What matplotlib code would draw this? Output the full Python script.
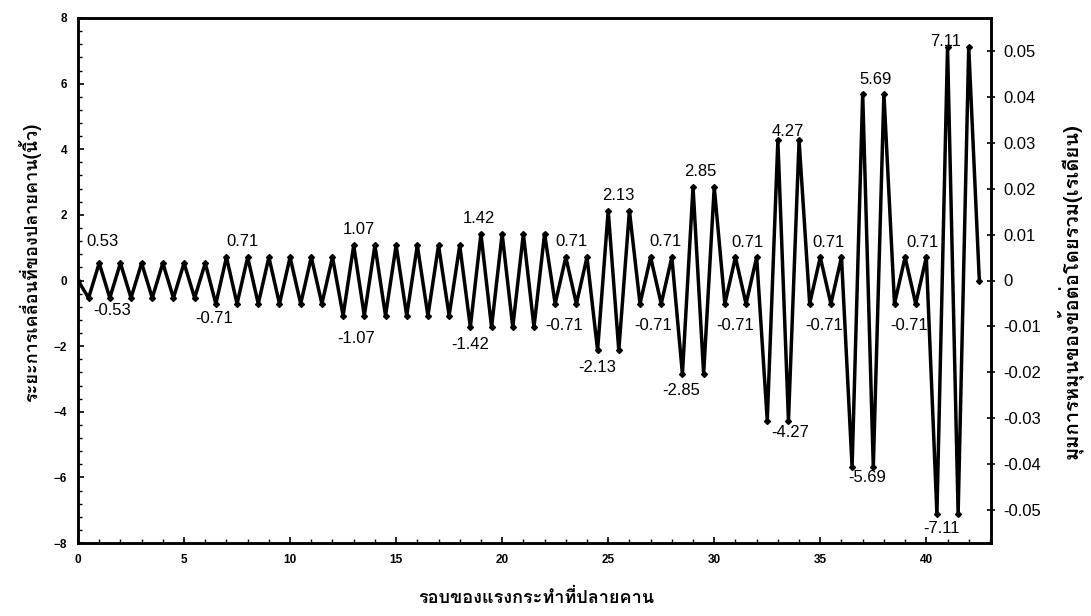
import matplotlib
matplotlib.use('Agg')
import matplotlib.pyplot as plt
from matplotlib.ticker import MultipleLocator, FixedLocator
import numpy as np

# peak displacement (in) of each load cycle
cycle_amp = ([0.53] * 6 + [0.71] * 6 + [1.07] * 6 + [1.42] * 4 +
             [0.71] * 2 + [2.13] * 2 + [0.71] * 2 + [2.85] * 2 +
             [0.71] * 2 + [4.27] * 2 + [0.71] * 2 + [5.69] * 2 +
             [0.71] * 2 + [7.11] * 2)

# each cycle: push to -amp at half cycle, then to +amp at full cycle
cycles = [0.0]
disp = [0.0]
for k, a in enumerate(cycle_amp):
    cycles += [k + 0.5, k + 1.0]
    disp += [-a, a]
cycles.append(len(cycle_amp) + 0.5)
disp.append(0.0)

# labels shown on the chart and where they sit (data coords)
label_text = ['0.53', '-0.53', '0.71', '-0.71', '1.07', '-1.07', '1.42', '-1.42',
              '0.71', '-0.71', '2.13', '-2.13', '0.71', '-0.71', '2.85', '-2.85',
              '0.71', '-0.71', '4.27', '-4.27', '0.71', '-0.71', '5.69', '-5.69',
              '0.71', '-0.71', '7.11', '-7.11']
label_x = [1.15, 1.6, 7.75, 6.4, 13.25, 13.1, 18.9, 18.5,
           23.25, 22.9, 25.5, 24.5, 27.7, 27.1, 29.35, 28.45,
           31.55, 31.0, 33.45, 33.6, 35.4, 35.2, 37.6, 37.2,
           39.8, 39.2, 40.9, 40.7]
label_y = [1.19, -0.91, 1.19, -1.15, 1.55, -1.76, 1.88, -1.96,
           1.19, -1.36, 2.58, -2.64, 1.19, -1.36, 3.33, -3.35,
           1.15, -1.36, 4.55, -4.64, 1.15, -1.38, 6.12, -6.0,
           1.15, -1.38, 7.28, -7.57]

rot_ticks = [0.05, 0.04, 0.03, 0.02, 0.01, 0, -0.01, -0.02, -0.03, -0.04, -0.05]
in_per_rad = 140.0

thai = ['Loma', 'DejaVu Sans']
num = ['Liberation Sans', 'DejaVu Sans']

fig = plt.figure(figsize=(10.91, 6.16), dpi=100)
ax = fig.add_axes([78 / 1091, 73 / 616, 913 / 1091, 525 / 616])

ax.plot(cycles, disp, color='black', linewidth=2.5, marker='D', markersize=3,
        markerfacecolor='black', markeredgecolor='black')

for t, x, y in zip(label_text, label_x, label_y):
    ax.text(x, y, t, ha='center', va='center', fontsize=12, family=num)

ax.set_xlim(0, 43.05)
ax.set_ylim(-8, 8)
ax.xaxis.set_major_locator(MultipleLocator(5))
ax.xaxis.set_minor_locator(MultipleLocator(1))
ax.yaxis.set_major_locator(MultipleLocator(2))
ax.yaxis.set_minor_locator(MultipleLocator(0.4))
ax.tick_params(axis='both', which='both', direction='in', top=False, right=False)
ax.tick_params(axis='both', which='major', length=4, width=1.2, pad=8)
ax.tick_params(axis='both', which='minor', length=3, width=1)
for lab in ax.get_xticklabels() + ax.get_yticklabels():
    lab.set_fontweight('bold')
    lab.set_fontsize(8.5)
    lab.set_family(num)
for s in ax.spines.values():
    s.set_linewidth(1.8)

ax2 = ax.twinx()
ax2.set_ylim(-8 / in_per_rad, 8 / in_per_rad)
ax2.yaxis.set_major_locator(FixedLocator(rot_ticks))
ax2.set_yticklabels(['%g' % v for v in rot_ticks], fontsize=12, family=num)
ax2.tick_params(axis='y', direction='inout', length=6, width=1.2, pad=6)
for s in ax2.spines.values():
    s.set_linewidth(1.8)

fig.text(536 / 1091, 1 - 598 / 616, 'รอบของแรงกระทำที่ปลายคาน', ha='center', va='center',
         fontsize=13, fontweight='bold', family=thai)
fig.text(30 / 1091, 1 - 262 / 616, 'ระยะการเคลื่อนที่ของปลายคาน(นิ้ว)', ha='center', va='center',
         rotation=90, fontsize=13, fontweight='bold', family=thai)
fig.text(1069 / 1091, 1 - 291 / 616, 'มุมการหมุนของข้อต่อโดยรวม(เรเดียน)', ha='center', va='center',
         rotation=90, fontsize=14.5, fontweight='bold', family=thai)

fig.savefig('out.png', dpi=100)
